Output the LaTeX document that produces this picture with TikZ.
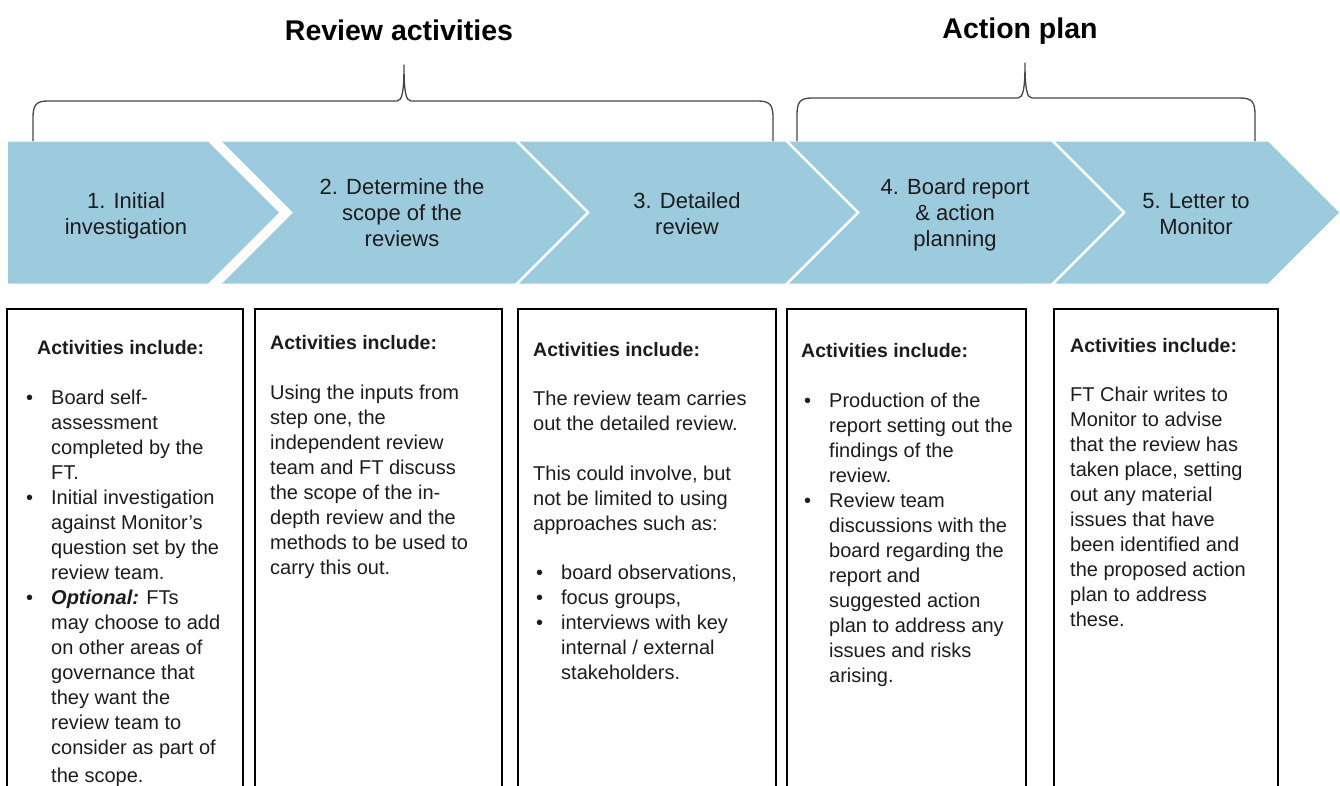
\documentclass[tikz,border=0pt]{standalone}
\usepackage{fontspec}
\setmainfont{Liberation Sans}

\definecolor{chevblue}{RGB}{157,203,222}
\definecolor{ink}{RGB}{28,28,28}
\definecolor{bracegray}{RGB}{70,70,70}

% line blocks whose reference point is the baseline of their first line
\newcommand{\centrelines}[1]{\vtop{\halign{\hfil##\hfil\cr#1\crcr}}}
\newcommand{\leftlines}[1]{\vtop{\halign{##\hfil\cr#1\crcr}}}
\newcommand{\bulletlines}[1]{\vtop{\halign{\hbox to 25pt{##\hfil}&##\hfil\cr#1\crcr}}}

\begin{document}
\begin{tikzpicture}[x=1pt,y=-1pt,
  chev/.style={fill=chevblue,draw=none},
  steptext/.style={font=\fontsize{22}{26}\selectfont,text=ink,inner sep=0pt,anchor=base},
  grouptitle/.style={font=\bfseries\fontsize{28.5}{34}\selectfont,text=black,inner sep=0pt,anchor=base},
  headtext/.style={font=\bfseries\fontsize{19.5}{25}\selectfont,text=ink,inner sep=0pt,anchor=base west},
  bodytext/.style={font=\fontsize{20}{25}\selectfont,text=ink,inner sep=0pt,anchor=base west},
  panel/.style={draw=black,line width=2pt},
  bracket/.style={draw=bracegray,line width=1.3pt,line join=round}]

\useasboundingbox (0,0) rectangle (1340,785);
\clip (0,0) rectangle (1340,785);

% ---- process chevrons
\path[chev] (8,141.5) -- (208,141.5) -- (279,212.5) -- (208,283.5) -- (8,283.5) -- cycle;
\path[chev] (222,141.5) -- (515,141.5) -- (586,212.5) -- (515,283.5) -- (222,283.5) -- (293,212.5) -- cycle;
\path[chev] (519,141.5) -- (785,141.5) -- (856,212.5) -- (785,283.5) -- (519,283.5) -- (590,212.5) -- cycle;
\path[chev] (789,141.5) -- (1051,141.5) -- (1122,212.5) -- (1051,283.5) -- (789,283.5) -- (860,212.5) -- cycle;
\path[chev] (1055,141.5) -- (1268,141.5) -- (1339,212.5) -- (1268,283.5) -- (1055,283.5) -- (1126,212.5) -- cycle;

\node[steptext] (c1) at (126,208) {\centrelines{1. Initial\cr investigation}};
\node[steptext] (c2) at (402,194) {\centrelines{2. Determine the\cr scope of the\cr reviews}};
\node[steptext] (c3) at (687,208) {\centrelines{3. Detailed\cr review}};
\node[steptext] (c4) at (955,194) {\centrelines{4. Board report\cr \& action\cr planning}};
\node[steptext] (c5) at (1196,208) {\centrelines{5. Letter to\cr Monitor}};

% ---- group brackets and titles
\draw[bracket] (33,141) -- (33,118) .. controls (33,105) and (36,101) .. (48,101)
  -- (397,101) .. controls (402,101) and (404,92) .. (404,65)
  .. controls (404,92) and (406,101) .. (411,101)
  -- (758,101) .. controls (770,101) and (773,105) .. (773,118) -- (773,141);
\draw[bracket] (797,141) -- (797,115) .. controls (797,102) and (800,98) .. (812,98)
  -- (1018,98) .. controls (1023,98) and (1025,89) .. (1025,63)
  .. controls (1025,89) and (1027,98) .. (1032,98)
  -- (1240,98) .. controls (1252,98) and (1255,102) .. (1255,115) -- (1255,141);

\node[grouptitle] (trev) at (399,40) {Review activities};
\node[grouptitle] (tact) at (1020,38) {Action plan};

% ---- activity panels
\draw[panel] (7,309) rectangle (243,800);
\draw[panel] (255,309) rectangle (502,800);
\draw[panel] (518,309) rectangle (776,800);
\draw[panel] (787,309) rectangle (1026,800);
\draw[panel] (1054,309) rectangle (1278,800);

\node[headtext] (h1) at (37,354) {Activities include:};
\node[headtext] (h2) at (270,349) {Activities include:};
\node[headtext] (h3) at (533,356) {Activities include:};
\node[headtext] (h4) at (801,357) {Activities include:};
\node[headtext] (h5) at (1070,352) {Activities include:};

\node[bodytext] (p1) at (26,404) {\bulletlines{%
  \textbullet & Board self-\cr
  & assessment\cr
  & completed by the\cr
  & FT.\cr
  \textbullet & Initial investigation\cr
  & against Monitor’s\cr
  & question set by the\cr
  & review team.\cr
  \textbullet & \textbf{\textit{Optional:}} FTs\cr
  & may choose to add\cr
  & on other areas of\cr
  & governance that\cr
  & they want the\cr
  & review team to\cr
  & consider as part of\cr
  \noalign{\kern3pt}
  & the scope.}};

\node[bodytext] (p2) at (270,399) {\leftlines{%
  Using the inputs from\cr
  step one, the\cr
  independent review\cr
  team and FT discuss\cr
  the scope of the in-\cr
  depth review and the\cr
  methods to be used to\cr
  carry this out.}};

\node[bodytext] (p3a) at (533,405) {\leftlines{%
  The review team carries\cr
  out the detailed review.\cr
  \cr
  This could involve, but\cr
  not be limited to using\cr
  approaches such as:}};
\node[bodytext] (p3b) at (536,579) {\bulletlines{%
  \textbullet & board observations,\cr
  \textbullet & focus groups,\cr
  \textbullet & interviews with key\cr
  & internal / external\cr
  & stakeholders.}};

\node[bodytext] (p4) at (804,407) {\bulletlines{%
  \textbullet & Production of the\cr
  & report setting out the\cr
  & findings of the\cr
  & review.\cr
  \textbullet & Review team\cr
  & discussions with the\cr
  & board regarding the\cr
  & report and\cr
  & suggested action\cr
  & plan to address any\cr
  & issues and risks\cr
  & arising.}};

\node[bodytext] (p5) at (1070,401) {\leftlines{%
  FT Chair writes to\cr
  Monitor to advise\cr
  that the review has\cr
  taken place, setting\cr
  out any material\cr
  issues that have\cr
  been identified and\cr
  the proposed action\cr
  plan to address\cr
  these.}};

\end{tikzpicture}
\end{document}
